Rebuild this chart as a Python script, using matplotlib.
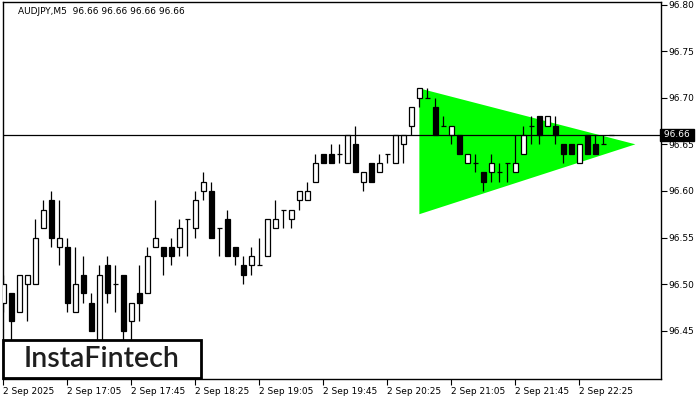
import numpy as np
import matplotlib
matplotlib.use("Agg")
from matplotlib import pyplot as plt
from matplotlib.patches import Rectangle

# AUDJPY M5 candles, 16:25 onwards
opens = [96.48, 96.49, 96.47, 96.50, 96.50, 96.56, 96.59, 96.54, 96.54, 96.47,
         96.51, 96.48, 96.42, 96.52, 96.50, 96.51, 96.46, 96.49, 96.49, 96.54,
         96.54, 96.54, 96.54, 96.57, 96.56, 96.60, 96.60, 96.56, 96.57, 96.54,
         96.52, 96.52, 96.52, 96.53, 96.56, 96.58, 96.57, 96.59, 96.59, 96.61,
         96.64, 96.64, 96.64, 96.63, 96.65, 96.61, 96.63, 96.62, 96.64, 96.63,
         96.65, 96.67, 96.70, 96.70, 96.69, 96.67, 96.66, 96.66, 96.63, 96.63,
         96.62, 96.62, 96.62, 96.63, 96.62, 96.64, 96.67, 96.68, 96.67, 96.67,
         96.65, 96.65, 96.63, 96.66, 96.65, 96.65, 96.66]
highs = [96.51, 96.49, 96.51, 96.51, 96.57, 96.59, 96.60, 96.59, 96.55, 96.54,
         96.53, 96.49, 96.52, 96.53, 96.52, 96.51, 96.48, 96.52, 96.54, 96.59,
         96.54, 96.55, 96.57, 96.57, 96.60, 96.62, 96.61, 96.56, 96.58, 96.54,
         96.53, 96.54, 96.55, 96.57, 96.59, 96.58, 96.58, 96.60, 96.61, 96.64,
         96.64, 96.65, 96.65, 96.66, 96.67, 96.62, 96.63, 96.64, 96.64, 96.66,
         96.66, 96.69, 96.71, 96.71, 96.70, 96.68, 96.67, 96.66, 96.64, 96.64,
         96.62, 96.64, 96.63, 96.63, 96.66, 96.67, 96.68, 96.68, 96.68, 96.68,
         96.65, 96.65, 96.65, 96.66, 96.66, 96.66, 96.66]
lows = [96.47, 96.43, 96.47, 96.46, 96.50, 96.56, 96.54, 96.52, 96.47, 96.47,
        96.48, 96.45, 96.41, 96.48, 96.47, 96.43, 96.43, 96.46, 96.49, 96.54,
        96.51, 96.52, 96.53, 96.53, 96.55, 96.59, 96.55, 96.53, 96.53, 96.52,
        96.50, 96.51, 96.52, 96.53, 96.56, 96.56, 96.56, 96.58, 96.59, 96.61,
        96.63, 96.63, 96.63, 96.63, 96.62, 96.60, 96.61, 96.62, 96.63, 96.63,
        96.63, 96.66, 96.69, 96.70, 96.66, 96.67, 96.65, 96.64, 96.63, 96.62,
        96.60, 96.61, 96.61, 96.61, 96.62, 96.64, 96.65, 96.65, 96.67, 96.65,
        96.63, 96.64, 96.63, 96.64, 96.64, 96.65, 96.66]
closes = [96.50, 96.46, 96.51, 96.51, 96.55, 96.58, 96.55, 96.55, 96.48, 96.50,
          96.49, 96.45, 96.51, 96.49, 96.50, 96.45, 96.48, 96.48, 96.53, 96.55,
          96.53, 96.53, 96.56, 96.57, 96.59, 96.61, 96.55, 96.56, 96.53, 96.53,
          96.51, 96.53, 96.52, 96.57, 96.57, 96.58, 96.58, 96.60, 96.60, 96.63,
          96.63, 96.63, 96.64, 96.66, 96.62, 96.62, 96.61, 96.63, 96.64, 96.66,
          96.66, 96.69, 96.71, 96.70, 96.66, 96.67, 96.67, 96.64, 96.64, 96.63,
          96.61, 96.63, 96.62, 96.63, 96.63, 96.66, 96.67, 96.66, 96.68, 96.66,
          96.64, 96.64, 96.65, 96.64, 96.64, 96.65, 96.66]

# symmetrical triangle pattern (bar index, price)
tri_x = [52, 52, 79]
tri_y = [96.71, 96.575, 96.65]

last_price = 96.66
price_ticks = [96.45, 96.50, 96.55, 96.60, 96.65, 96.70, 96.75, 96.80]
time_tick_idx = [0, 8, 16, 24, 32, 40, 48, 56, 64, 72]
time_labels = ["2 Sep 2025", "2 Sep 17:05", "2 Sep 17:45", "2 Sep 18:25",
               "2 Sep 19:05", "2 Sep 19:45", "2 Sep 20:25", "2 Sep 21:05",
               "2 Sep 21:45", "2 Sep 22:25"]

W, H = 700, 400
fig = plt.figure(figsize=(7, 4), dpi=100)
ax = fig.add_axes([2.5 / W, 21 / H, (661 - 2.5) / W, 377 / H])

ax.fill(tri_x, tri_y, color="#00ff00", lw=0, zorder=1)

bw = 0.625
for i in range(len(opens)):
    o, h, l, c = opens[i], highs[i], lows[i], closes[i]
    ax.vlines(i, l, h, color="black", lw=0.9, zorder=2)
    if abs(c - o) < 1e-9:
        ax.hlines(o, i - bw / 2, i + bw / 2, color="black", lw=0.9, zorder=3)
    else:
        fc = "white" if c > o else "black"
        ax.bar(i, abs(c - o), bottom=min(o, c), width=bw, color=fc,
               edgecolor="black", linewidth=0.9, zorder=3)

ax.axhline(last_price, color="black", lw=0.9, zorder=4)

ax.set_xlim(-0.1, 82.2)
ax.set_ylim(96.3982, 96.8027)

ax.yaxis.tick_right()
ax.set_yticks(price_ticks)
ax.set_yticklabels(["%.2f" % p for p in price_ticks])
ax.set_xticks(time_tick_idx)
ax.set_xticklabels(time_labels, ha="left")
ax.tick_params(axis="both", length=4, width=0.8, labelsize=6.5, pad=1.5)
for s in ax.spines.values():
    s.set_linewidth(1.0)

ax.text(1.0, last_price, " 96.66 ", transform=ax.get_yaxis_transform(),
        ha="left", va="center", fontsize=6.5, color="white", zorder=10,
        clip_on=False,
        bbox=dict(boxstyle="square,pad=0.15", fc="black", ec="black"))

fig.text(18 / W, 1 - 12 / H, "AUDJPY,M5  96.66 96.66 96.66 96.66",
         fontsize=6.5, va="center", ha="left")

# logo box
fig.patches.append(Rectangle((3 / W, (H - 378) / H), 198 / W, 38 / H,
                             transform=fig.transFigure, fc="white",
                             ec="black", lw=2, zorder=20))
fig.text(102 / W, 1 - 359 / H, "InstaFintech", fontsize=20.5, color="#1e1e1e",
         family="Lato", fontweight="semibold", ha="center", va="center",
         zorder=21)

fig.savefig("out.png", dpi=100)
